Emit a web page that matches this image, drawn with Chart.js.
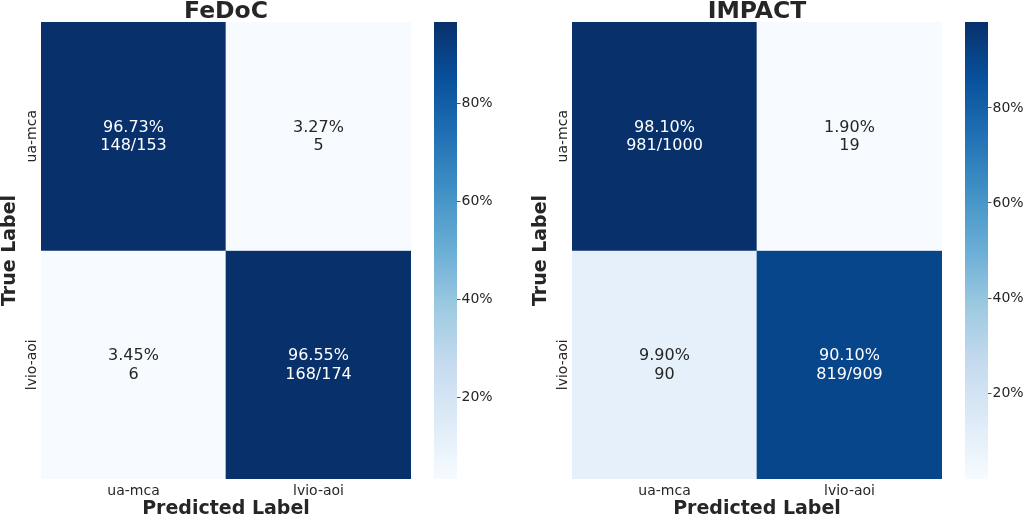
<!DOCTYPE html>
<html lang="en">
<head>
    <meta charset="UTF-8">
    <title>Confusion matrices</title>
    <script src="https://cdn.jsdelivr.net/npm/chart.js"></script>
    <style>
        body {
            margin: 0;
            background: #fff;
            font-family: "DejaVu Sans", sans-serif;
        }

        .wrap {
            position: relative;
            width: 1026px;
            height: 517px;
        }

        canvas {
            position: absolute;
            top: 0;
        }
    </style>
</head>
<body>
<div class="wrap">
    <canvas id="fedocChart" width="434" height="517" style="left:0"></canvas>
    <canvas id="fedocBar" width="97" height="517" style="left:434px"></canvas>
    <canvas id="impactChart" width="434" height="517" style="left:531px"></canvas>
    <canvas id="impactBar" width="61" height="517" style="left:965px"></canvas>
</div>

<script>
    // data
    const classLabels = ['ua-mca', 'lvio-aoi'];

    const fedocPct = [[96.73, 3.27], [3.45, 96.55]];
    const fedocCounts = [[148, 5], [6, 168]];
    const fedocTotals = [153, 174];

    const impactPct = [[98.10, 1.90], [9.90, 90.10]];
    const impactCounts = [[981, 19], [90, 819]];
    const impactTotals = [1000, 909];

    const colorbarTicks = [20, 40, 60, 80];

    // matplotlib "Blues"
    const blues = [
        [247, 251, 255], [222, 235, 247], [198, 219, 239], [158, 202, 225],
        [107, 174, 214], [66, 146, 198], [33, 113, 181], [8, 81, 156], [8, 48, 107]
    ];
    const TEXT = '#262626';
    const FONT = "'DejaVu Sans', sans-serif";
    const BAR_W = 23;

    function bluesRgb(t) {
        t = Math.min(1, Math.max(0, t));
        const p = t * (blues.length - 1);
        const i = Math.min(blues.length - 2, Math.floor(p));
        const f = p - i;
        return blues[i].map((v, k) => Math.round(v + (blues[i + 1][k] - v) * f));
    }

    function luminance(rgb) {
        const c = rgb.map(v => {
            v = v / 255;
            return v <= 0.03928 ? v / 12.92 : Math.pow((v + 0.055) / 1.055, 2.4);
        });
        return 0.2126 * c[0] + 0.7152 * c[1] + 0.0722 * c[2];
    }

    function range(pct) {
        const all = pct.flat();
        return [Math.min(...all), Math.max(...all)];
    }

    function makeHeatmap(id, title, pct, counts, totals) {
        const [vmin, vmax] = range(pct);
        const rgbOf = v => bluesRgb((v - vmin) / (vmax - vmin));

        const cellText = {
            id: 'cellText',
            afterDatasetsDraw(chart) {
                const ctx = chart.ctx;
                const x = chart.scales.x, y = chart.scales.y;
                ctx.save();
                ctx.font = '16px ' + FONT;
                ctx.textAlign = 'center';
                ctx.textBaseline = 'alphabetic';
                pct.forEach((row, r) => {
                    row.forEach((v, c) => {
                        const cx = x.getPixelForValue(c);
                        const cy = y.getPixelForValue(r + 0.5);
                        ctx.fillStyle = luminance(rgbOf(v)) > 0.408 ? TEXT : '#ffffff';
                        const second = r === c ? counts[r][c] + '/' + totals[r] : String(counts[r][c]);
                        ctx.fillText(v.toFixed(2) + '%', cx, cy - 4.5);
                        ctx.fillText(second, cx, cy + 13.8);
                    });
                });
                ctx.restore();
            }
        };

        // rotated row labels on the left
        const rowLabels = {
            id: 'rowLabels',
            afterDraw(chart) {
                const ctx = chart.ctx;
                const y = chart.scales.y;
                ctx.save();
                ctx.font = '14px ' + FONT;
                ctx.fillStyle = TEXT;
                ctx.textAlign = 'center';
                ctx.textBaseline = 'alphabetic';
                classLabels.forEach((lab, r) => {
                    ctx.save();
                    ctx.translate(chart.chartArea.left - 5, y.getPixelForValue(r + 0.5));
                    ctx.rotate(-Math.PI / 2);
                    ctx.fillText(lab, 0, 0);
                    ctx.restore();
                });
                ctx.restore();
            }
        };

        new Chart(document.getElementById(id), {
            type: 'bar',
            data: {
                labels: classLabels,
                datasets: pct.map((row, r) => ({
                    data: row.map(() => [r, r + 1]),
                    backgroundColor: row.map(v => 'rgb(' + rgbOf(v).join(',') + ')'),
                    borderWidth: 0,
                    barPercentage: 1,
                    categoryPercentage: 1,
                    grouped: false
                }))
            },
            options: {
                responsive: false,
                animation: false,
                layout: {padding: {top: 0, right: 23, bottom: 0, left: 0}},
                plugins: {
                    legend: {display: false},
                    tooltip: {enabled: false},
                    title: {
                        display: true,
                        text: title,
                        fullSize: false,
                        color: TEXT,
                        font: {family: FONT, size: 23.5, weight: 'bold', lineHeight: '20.4px'},
                        padding: {top: 1.2, bottom: 0.4}
                    }
                },
                scales: {
                    x: {
                        grid: {display: false, drawTicks: false},
                        border: {display: false},
                        ticks: {color: TEXT, font: {family: FONT, size: 14}, padding: 4.3},
                        title: {
                            display: true,
                            text: 'Predicted Label',
                            color: TEXT,
                            font: {family: FONT, size: 19, weight: 'bold', lineHeight: '16px'},
                            padding: 0
                        },
                        afterFit: s => { s.height = 38; }
                    },
                    y: {
                        type: 'linear',
                        min: 0,
                        max: 2,
                        reverse: true,
                        grid: {display: false, drawTicks: false},
                        border: {display: false},
                        ticks: {display: false},
                        title: {
                            display: true,
                            text: 'True Label',
                            color: TEXT,
                            font: {family: FONT, size: 19, weight: 'bold', lineHeight: '20px'},
                            padding: 0
                        },
                        afterFit: s => { s.width = 41; }
                    }
                }
            },
            plugins: [cellText, rowLabels]
        });
    }

    function makeColorbar(id, pct) {
        const [vmin, vmax] = range(pct);
        const canvas = document.getElementById(id);

        new Chart(canvas, {
            type: 'bar',
            data: {
                labels: [''],
                datasets: [{
                    data: [[vmin, vmax]],
                    backgroundColor: ctx => {
                        const area = ctx.chart.chartArea;
                        if (!area) return null;
                        const g = ctx.chart.ctx.createLinearGradient(0, area.bottom, 0, area.top);
                        blues.forEach((c, i) => g.addColorStop(i / (blues.length - 1), 'rgb(' + c.join(',') + ')'));
                        return g;
                    },
                    borderWidth: 0,
                    barPercentage: 1,
                    categoryPercentage: 1
                }]
            },
            options: {
                responsive: false,
                animation: false,
                layout: {padding: {top: 22, right: 0, bottom: 38, left: 0}},
                plugins: {
                    legend: {display: false},
                    tooltip: {enabled: false}
                },
                scales: {
                    x: {display: false},
                    y: {
                        type: 'linear',
                        position: 'right',
                        min: vmin,
                        max: vmax,
                        afterBuildTicks: s => { s.ticks = colorbarTicks.map(v => ({value: v})); },
                        ticks: {
                            color: TEXT,
                            font: {family: FONT, size: 14},
                            padding: 1,
                            callback: v => v + '%'
                        },
                        grid: {
                            drawOnChartArea: false,
                            drawTicks: true,
                            tickLength: 3.5,
                            tickWidth: 0.8,
                            tickColor: TEXT
                        },
                        border: {display: false},
                        afterFit: s => { s.width = canvas.width - BAR_W; }
                    }
                }
            }
        });
    }

    makeHeatmap('fedocChart', 'FeDoC', fedocPct, fedocCounts, fedocTotals);
    makeColorbar('fedocBar', fedocPct);
    makeHeatmap('impactChart', 'IMPACT', impactPct, impactCounts, impactTotals);
    makeColorbar('impactBar', impactPct);
</script>
</body>
</html>
